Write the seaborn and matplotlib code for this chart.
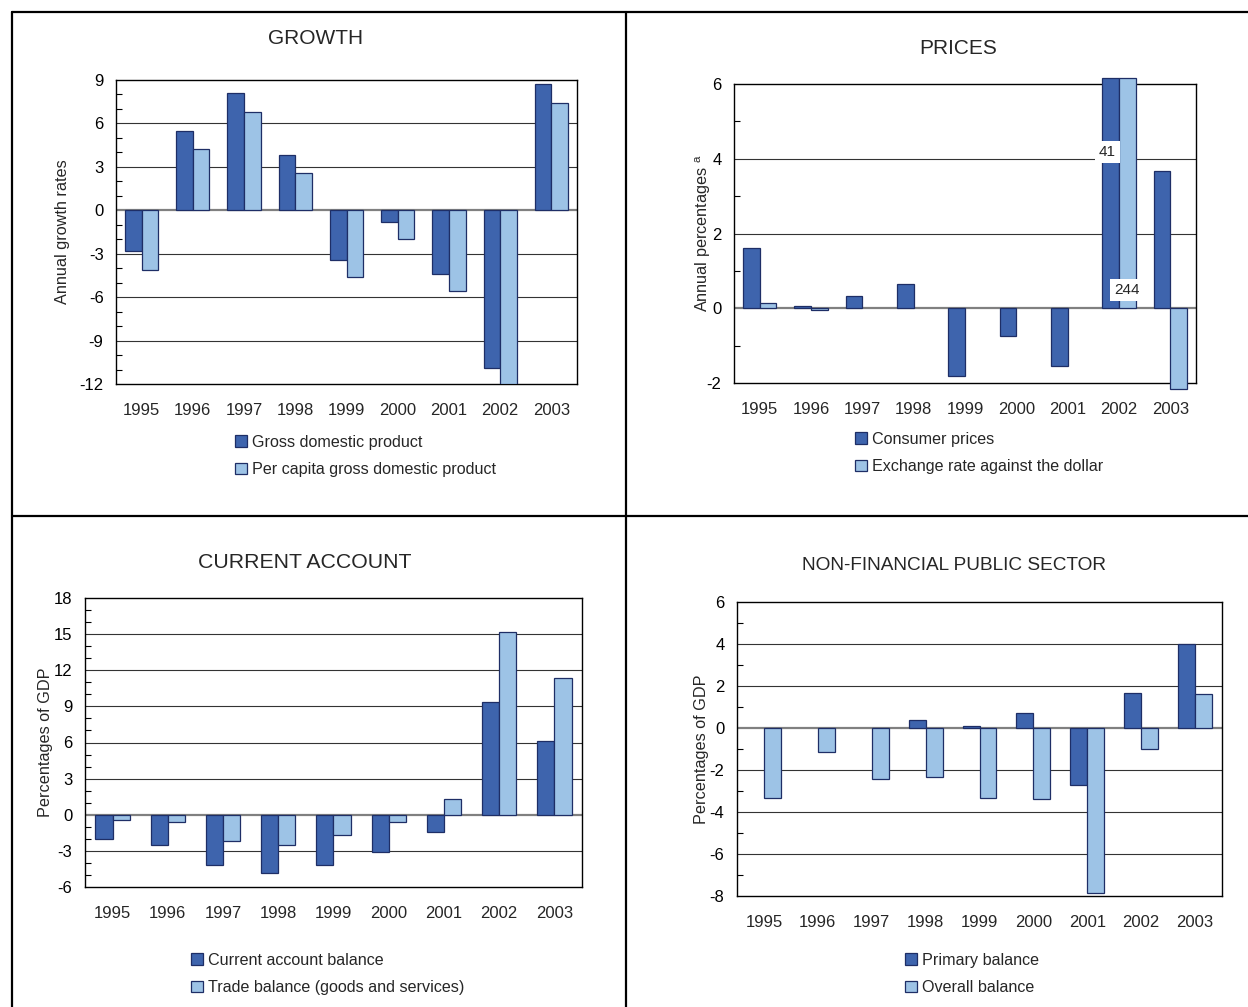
import numpy as np
import pandas as pd
import matplotlib
matplotlib.use("Agg")
import matplotlib.pyplot as plt
from matplotlib.lines import Line2D
from matplotlib.patches import Patch
from matplotlib.ticker import MultipleLocator
import seaborn as sns

years = ["1995", "1996", "1997", "1998", "1999", "2000", "2001", "2002", "2003"]

# GROWTH
gdp = [-2.8, 5.5, 8.1, 3.8, -3.4, -0.8, -4.4, -10.9, 8.7]
gdp_per_capita = [-4.1, 4.2, 6.8, 2.6, -4.6, -2.0, -5.6, -12.0, 7.4]

# PRICES
consumer_prices = [1.6, 0.05, 0.33, 0.66, -1.82, -0.74, -1.55, 41.0, 3.67]
exchange_rate = [0.13, -0.05, np.nan, np.nan, np.nan, np.nan, np.nan, 244.0, -2.15]

# CURRENT ACCOUNT
current_account = [-2.0, -2.5, -4.15, -4.8, -4.2, -3.1, -1.4, 9.4, 6.1]
trade_balance = [-0.4, -0.6, -2.2, -2.5, -1.7, -0.6, 1.3, 15.2, 11.35]

# NON-FINANCIAL PUBLIC SECTOR
primary_balance = [np.nan, np.nan, np.nan, 0.4, 0.1, 0.73, -2.7, 1.69, 4.0]
overall_balance = [-3.33, -1.13, -2.42, -2.31, -3.35, -3.38, -7.85, -0.99, 1.6]

DARK = "#3E64AD"
LIGHT = "#9DC3E6"
EDGE = "#1E2E66"
W, H = 1248, 1007
FS = 12

sns.set_theme(style="white")
plt.rcParams["font.family"] = ["Liberation Sans", "DejaVu Sans"]
plt.rcParams["mathtext.fontset"] = "custom"
plt.rcParams["mathtext.rm"] = "Liberation Sans"
plt.rcParams["axes.unicode_minus"] = False

fig = plt.figure(figsize=(W / 100, H / 100), dpi=100)


def px_axes(left, right, top, bottom):
    return fig.add_axes([left / W, 1 - bottom / H, (right - left) / W, (bottom - top) / H])


def draw_panel(ax, names, series, ylim, major, ylabel, label_x, width=0.65, display_clip=None):
    rows = []
    for name, vals in zip(names, series):
        for yr, v in zip(years, vals):
            rows.append({"year": yr, "series": name, "value": v})
    df = pd.DataFrame(rows)
    if display_clip is not None:
        df["value"] = df["value"].clip(*display_clip)
    sns.barplot(data=df, x="year", y="value", hue="series", hue_order=names,
                palette=[DARK, LIGHT], saturation=1, width=width, edgecolor=EDGE,
                linewidth=0.9, legend=False, ax=ax, zorder=3,
                clip_on=display_clip is None)
    ax.set_xlim(-0.5, len(years) - 0.5)
    ax.set_ylim(*ylim)
    ax.yaxis.set_major_locator(MultipleLocator(major))
    ax.yaxis.set_minor_locator(MultipleLocator(1))
    for v in np.arange(ylim[0] + major, ylim[1], major):
        if abs(v) < 1e-9:
            ax.axhline(0, color="#808080", lw=1.6, zorder=2)
        else:
            ax.axhline(v, color="#333333", lw=0.8, zorder=1)
    ax.tick_params(axis="y", which="major", direction="in", length=0, labelsize=FS, pad=9, colors="black")
    ax.tick_params(axis="y", which="minor", direction="in", length=4, width=0.8, left=True, color="black")
    ax.tick_params(axis="x", length=0, labelsize=FS, pad=14)
    for s in ax.spines.values():
        s.set_color("black")
        s.set_linewidth(1.0)
    ax.set_xlabel("")
    ax.set_ylabel(ylabel, fontsize=11.7)
    ax.yaxis.set_label_coords(label_x, 0.5)


def add_legend(names, x, y):
    handles = [Patch(facecolor=c, edgecolor=EDGE, linewidth=0.9) for c in (DARK, LIGHT)]
    fig.legend(handles, names, loc="upper left", bbox_to_anchor=(x / W, 1 - y / H),
               frameon=False, borderaxespad=0, borderpad=0, handlelength=0.75,
               handleheight=0.75, handletextpad=0.3, labelspacing=0.75, fontsize=11.6)


# Growth
ax1 = px_axes(116, 577, 80, 384)
names1 = ["Gross domestic product", "Per capita gross domestic product"]
draw_panel(ax1, names1, [gdp, gdp_per_capita], (-12, 9), 3, "Annual growth rates", -0.10)
fig.text(316 / W, 1 - 38 / H, "GROWTH", ha="center", va="center", fontsize=15)
add_legend(names1, 235, 435)

# Prices
ax2 = px_axes(734, 1196, 84, 383)
names2 = ["Consumer prices", "Exchange rate against the dollar"]
draw_panel(ax2, names2, [consumer_prices, exchange_rate], (-2, 6), 2,
           r"Annual percentages $^{\mathrm{a}}$", -0.045, display_clip=(-2.15, 6.16))
ax2.text(6.77, 4.18, f"{consumer_prices[7]:.0f}", ha="center", va="center", fontsize=11, zorder=5,
         bbox=dict(facecolor="white", edgecolor="none", pad=3))
ax2.text(7.16, 0.49, f"{exchange_rate[7]:.0f}", ha="center", va="center", fontsize=11, zorder=5,
         bbox=dict(facecolor="white", edgecolor="none", pad=3))
fig.text(958 / W, 1 - 49 / H, "PRICES", ha="center", va="center", fontsize=15)
add_legend(names2, 855, 432)

# Current account
ax3 = px_axes(85, 582, 598, 887)
names3 = ["Current account balance", "Trade balance (goods and services)"]
draw_panel(ax3, names3, [current_account, trade_balance], (-6, 18), 3, "Percentages of GDP", -0.064, width=0.62)
fig.text(305 / W, 1 - 562 / H, "CURRENT ACCOUNT", ha="center", va="center", fontsize=15.3)
add_legend(names3, 191, 953)

# Non-financial public sector
ax4 = px_axes(737, 1222, 602, 896)
names4 = ["Primary balance", "Overall balance"]
draw_panel(ax4, names4, [primary_balance, overall_balance], (-8, 6), 2, "Percentages of GDP", -0.057, width=0.63)
fig.text(954 / W, 1 - 566 / H, "NON-FINANCIAL PUBLIC SECTOR", ha="center", va="center", fontsize=13.7)
add_legend(names4, 905, 953)

# panel frame lines
lw = 1.6
fig.add_artist(Line2D([12 / W, 1], [1 - 12 / H] * 2, color="black", lw=lw))
fig.add_artist(Line2D([12 / W] * 2, [0, 1 - 12 / H], color="black", lw=lw))
fig.add_artist(Line2D([626 / W] * 2, [0, 1 - 12 / H], color="black", lw=lw))
fig.add_artist(Line2D([12 / W, 1], [1 - 516 / H] * 2, color="black", lw=lw))

fig.savefig("out.png", dpi=100)
